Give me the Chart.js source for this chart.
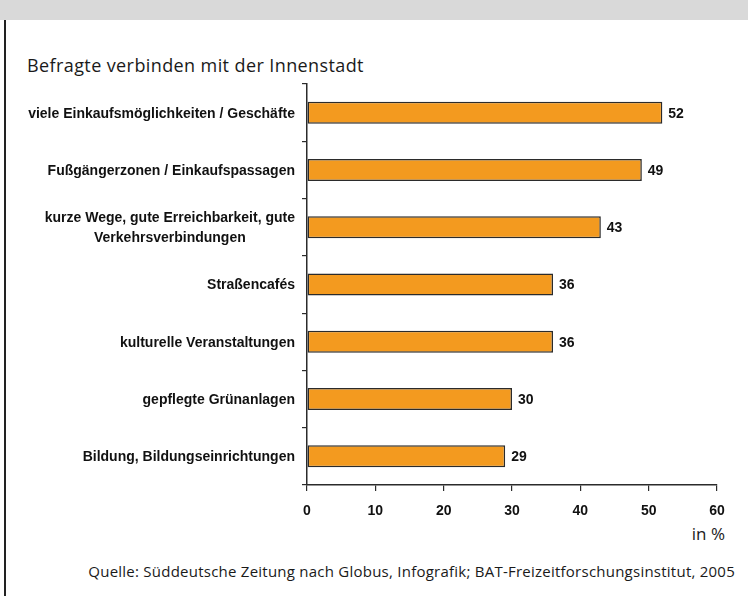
<!DOCTYPE html>
<html>
<head>
<meta charset="utf-8">
<script src="https://cdn.jsdelivr.net/npm/chart.js@4/dist/chart.umd.min.js"></script>
<style>
  body { margin: 0; width: 748px; height: 596px; position: relative; background: #fff; overflow: hidden; }
  .band { position: absolute; left: 0; top: 0; width: 748px; height: 20px; background: #d9d9d9; }
  .frame { position: absolute; left: 4px; top: 20px; width: 2px; height: 576px; background: #222; }
  .title { position: absolute; left: 27px; top: 53px; font: 18px "Open Sans", sans-serif; letter-spacing: 0.4px; color: #1a1a1a; white-space: nowrap; }
  .unit { position: absolute; right: 23px; top: 522px; font: 17px "Open Sans", sans-serif; color: #1a1a1a; }
  .source { position: absolute; right: 13px; top: 561px; font: 15px "Open Sans", sans-serif; letter-spacing: 0.24px; color: #1a1a1a; white-space: nowrap; }
  #chart { position: absolute; left: 0; top: 0; }
</style>
</head>
<body>
<div class="band"></div>
<div class="frame"></div>
<div class="title">Befragte verbinden mit der Innenstadt</div>
<div class="unit">in %</div>
<div class="source">Quelle: Süddeutsche Zeitung nach Globus, Infografik; BAT-Freizeitforschungsinstitut, 2005</div>
<canvas id="chart" width="748" height="596"></canvas>

<script>
const categories = [
    ["viele Einkaufsmöglichkeiten / Geschäfte"],
    ["Fußgängerzonen / Einkaufspassagen"],
    ["kurze Wege, gute Erreichbarkeit, gute", "Verkehrsverbindungen"],
    ["Straßencafés"],
    ["kulturelle Veranstaltungen"],
    ["gepflegte Grünanlagen"],
    ["Bildung, Bildungseinrichtungen"]
];
const values = [52, 49, 43, 36, 36, 30, 29];
const xMin = 0;
const xMax = 60;
const xStep = 10;

const barColor = "#f39a1f";
const lineColor = "#2b2b2b";
const boldFont = "bold 14px 'Liberation Sans', Arial, sans-serif";

// category labels (centered lines, right-aligned block) and value labels
const labelPlugin = {
    id: "labels",
    afterDatasetsDraw(chart) {
        const ctx = chart.ctx;
        const yScale = chart.scales.y;
        const area = chart.chartArea;
        ctx.save();
        ctx.font = boldFont;
        ctx.fillStyle = "#111";
        ctx.textBaseline = "middle";

        categories.forEach((lines, i) => {
            const y = yScale.getPixelForValue(i);
            const blockW = Math.max(...lines.map(l => ctx.measureText(l).width));
            const cx = area.left - 12 - blockW / 2;
            const lh = 20;
            ctx.textAlign = "center";
            lines.forEach((l, j) => {
                ctx.fillText(l, cx, y + 1 + (j - (lines.length - 1) / 2) * lh);
            });
        });

        const meta = chart.getDatasetMeta(0);
        ctx.textAlign = "left";
        meta.data.forEach((bar, i) => {
            ctx.fillText(values[i], bar.x + 6, bar.y + 1);
        });
        ctx.restore();
    }
};

new Chart(document.getElementById("chart"), {
    type: "bar",
    data: {
        labels: categories.map(c => c.join(" ")),
        datasets: [{
            data: values,
            backgroundColor: barColor,
            borderColor: lineColor,
            borderWidth: 1.5,
            borderSkipped: false,
            barPercentage: 0.384,
            categoryPercentage: 1
        }]
    },
    options: {
        indexAxis: "y",
        responsive: false,
        animation: false,
        layout: { padding: { top: 84, right: 31, bottom: 71, left: 0 } },
        plugins: {
            legend: { display: false },
            tooltip: { enabled: false }
        },
        scales: {
            x: {
                min: xMin,
                max: xMax,
                ticks: {
                    stepSize: xStep,
                    color: "#111",
                    font: { family: "'Liberation Sans', Arial, sans-serif", size: 14, weight: "bold" },
                    padding: 12
                },
                grid: { drawOnChartArea: false, drawTicks: true, tickLength: 6, color: lineColor, lineWidth: 1.2 },
                border: { color: lineColor, width: 1.5 },
                afterFit(scale) { scale.height = 40; }
            },
            y: {
                ticks: { display: false },
                grid: { offset: true, drawOnChartArea: false, drawTicks: true, tickLength: 5, color: lineColor, lineWidth: 1.2 },
                border: { color: lineColor, width: 1.5 },
                afterFit(scale) { scale.width = 307; }
            }
        }
    },
    plugins: [labelPlugin]
});
</script>
</body>
</html>
